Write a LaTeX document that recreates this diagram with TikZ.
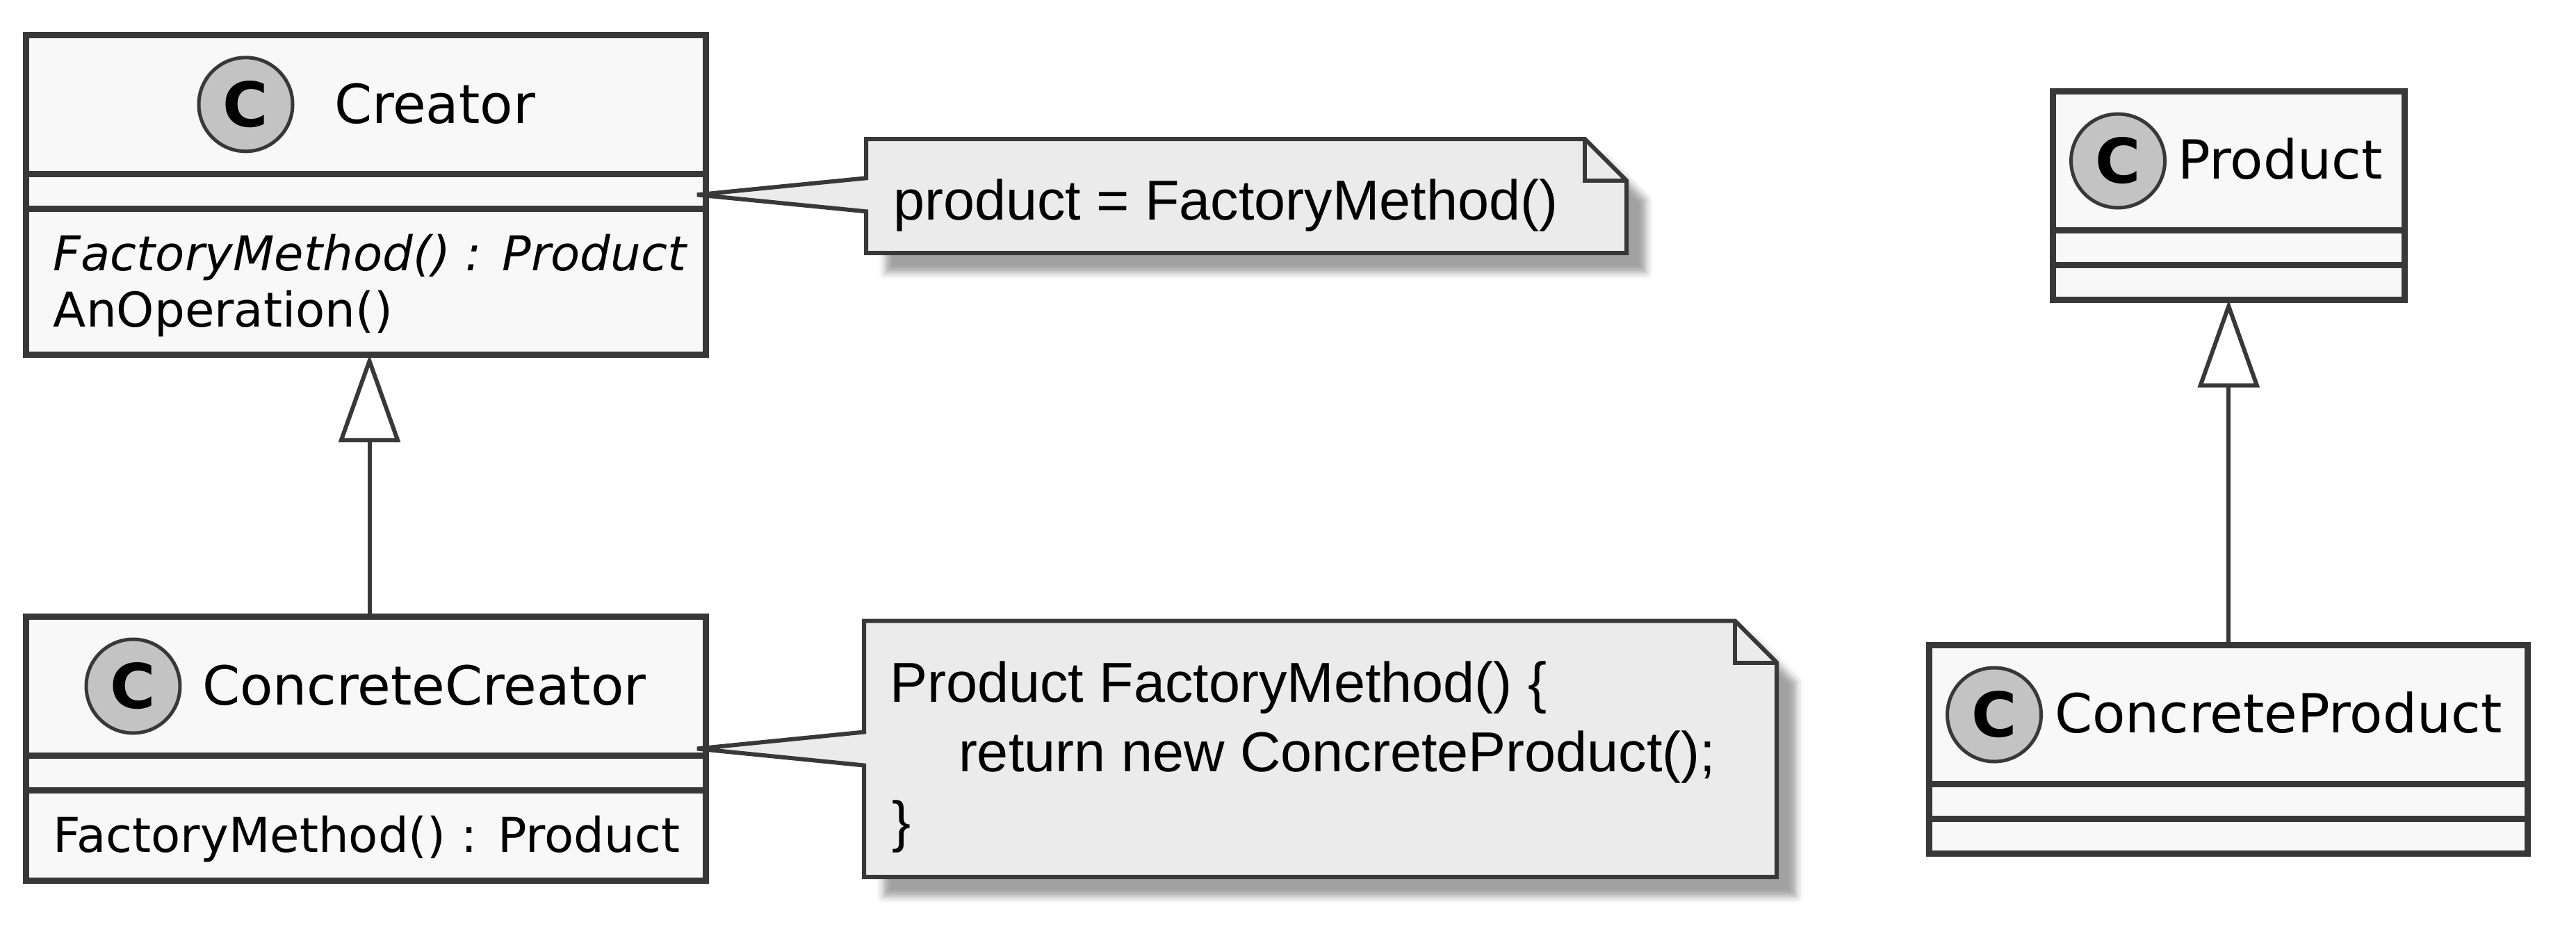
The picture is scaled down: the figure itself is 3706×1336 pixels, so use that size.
\documentclass[tikz,border=0pt]{standalone}
\usepackage{fontspec}
\setmainfont{DejaVu Sans}
\newfontfamily\notefont{Liberation Sans}
\usepackage{tikz}
\usetikzlibrary{positioning,calc,fit,backgrounds,shadows.blur,arrows.meta}
\definecolor{classfill}{HTML}{F8F8F8}
\definecolor{umlline}{HTML}{383838}
\definecolor{notefill}{HTML}{EBEBEB}
\definecolor{spotfill}{HTML}{C3C3C3}
\tikzset{
  umlshadow/.style={blur shadow={shadow xshift=5.6pt, shadow yshift=-5.6pt, shadow blur radius=2pt, shadow opacity=37}},
  classpart/.style={draw=umlline, fill=classfill, line width=1.8pt, inner sep=0pt, outer sep=0pt, minimum width=#1},
  classshadow/.style={fill=classfill, inner sep=0pt, outer sep=0pt, umlshadow},
  spot/.style={circle, draw=umlline, fill=spotfill, line width=1pt, minimum size=27pt, inner sep=0pt, font=\bfseries\fontsize{17.8pt}{18pt}\selectfont},
  classname/.style={anchor=base west, inner sep=0pt, font=\fontsize{15.5pt}{18pt}\selectfont},
  member/.style={anchor=base west, inner sep=0pt, font=\fontsize{13.8pt}{16pt}\selectfont},
  umlnote/.style={draw=umlline, fill=notefill, line width=1.2pt},
  umlfold/.style={draw=umlline, line width=1.2pt},
  notetext/.style={anchor=base west, inner sep=0pt, font=\notefont\fontsize{16.2pt}{20pt}\selectfont},
  extends/.style={draw=umlline, line width=1.2pt, -{Triangle[length=25.2pt, width=17.6pt, fill=white]}},
}

\begin{document}
\begin{tikzpicture}[x=0.2pt, y=-0.2pt]
  \useasboundingbox (0,0) rectangle (3706,1336);

  % Creator
  \node[classpart=195.6pt, minimum height=40pt] (creator-head) at (526.5,150.3) {};
  \node[classpart=195.6pt, minimum height=10pt, below=0pt of creator-head] (creator-attr) {};
  \node[classpart=195.6pt, minimum height=42pt, below=0pt of creator-attr] (creator-ops) {};
  \begin{scope}[on background layer]
    \node[classshadow, fit=(creator-head) (creator-ops)] (creator) {};
  \end{scope}
  \node[spot] (creator-spot) at (353.5,150.3) {C};
  \node[classname] (creator-name) at (480,177) {Creator};
  \node[member] (creator-m1) at (76,389) {\itshape FactoryMethod() : Product};
  \node[member] (creator-m2) at (76,470) {AnOperation()};

  % ConcreteCreator
  \node[classpart=195.6pt, minimum height=40pt] (ccreator-head) at (526.5,987.5) {};
  \node[classpart=195.6pt, minimum height=10pt, below=0pt of ccreator-head] (ccreator-attr) {};
  \node[classpart=195.6pt, minimum height=26pt, below=0pt of ccreator-attr] (ccreator-ops) {};
  \begin{scope}[on background layer]
    \node[classshadow, fit=(ccreator-head) (ccreator-ops)] (ccreator) {};
  \end{scope}
  \node[spot] (ccreator-spot) at (191.5,987.5) {C};
  \node[classname] (ccreator-name) at (290,1014) {ConcreteCreator};
  \node[member] (ccreator-m1) at (76,1226) {FactoryMethod() : Product};

  % Product
  \node[classpart=101.3pt, minimum height=40pt] (product-head) at (3206.25,231.5) {};
  \node[classpart=101.3pt, minimum height=10pt, below=0pt of product-head] (product-attr) {};
  \node[classpart=101.3pt, minimum height=10pt, below=0pt of product-attr] (product-ops) {};
  \begin{scope}[on background layer]
    \node[classshadow, fit=(product-head) (product-ops)] (product) {};
  \end{scope}
  \node[spot] (product-spot) at (3047,231.5) {C};
  \node[classname] (product-name) at (3132,257) {Product};

  % ConcreteProduct
  \node[classpart=172.2pt, minimum height=40pt] (cproduct-head) at (3206.25,1028.5) {};
  \node[classpart=172.2pt, minimum height=10pt, below=0pt of cproduct-head] (cproduct-attr) {};
  \node[classpart=172.2pt, minimum height=10pt, below=0pt of cproduct-attr] (cproduct-ops) {};
  \begin{scope}[on background layer]
    \node[classshadow, fit=(cproduct-head) (cproduct-ops)] (cproduct) {};
  \end{scope}
  \node[spot] (cproduct-spot) at (2869,1028.5) {C};
  \node[classname] (cproduct-name) at (2955,1054) {ConcreteProduct};

  \draw[extends] ([xshift=1pt]ccreator-head.north) -- ([xshift=1pt]creator-ops.south);
  \draw[extends] (cproduct-head.north) -- (product-ops.south);

  % notes
  \coordinate (note1-nw) at (1246,200);
  \coordinate (note1-se) at (2340,364);
  \coordinate (note1-fa) at ([xshift=-12pt]note1-nw -| note1-se);
  \coordinate (note1-fb) at ([yshift=-12pt]note1-se |- note1-nw);
  \coordinate (creator-tip) at ([xshift=-2.5pt]creator.east);
  \path[umlshadow] (note1-nw) -- (note1-fa) -- (note1-fb) -- (note1-se) -- (note1-nw |- note1-se) -- cycle;
  \draw[umlnote] (note1-nw) -- (note1-fa) -- (note1-fb) -- (note1-se) -- (note1-nw |- note1-se)
    -- ([yshift=-4.8pt]note1-nw |- creator-tip) -- (creator-tip) -- ([yshift=4.8pt]note1-nw |- creator-tip) -- cycle;
  \draw[umlfold] (note1-fa) |- (note1-fb);
  \node[notetext] (note1-text) at (1284,316) {product = FactoryMethod()};

  \coordinate (note2-nw) at (1243,893.5);
  \coordinate (note2-se) at (2556,1262);
  \coordinate (note2-fa) at ([xshift=-12pt]note2-nw -| note2-se);
  \coordinate (note2-fb) at ([yshift=-12pt]note2-se |- note2-nw);
  \coordinate (ccreator-tip) at ([xshift=-2.5pt]ccreator.east);
  \path[umlshadow] (note2-nw) -- (note2-fa) -- (note2-fb) -- (note2-se) -- (note2-nw |- note2-se) -- cycle;
  \draw[umlnote] (note2-nw) -- (note2-fa) -- (note2-fb) -- (note2-se) -- (note2-nw |- note2-se)
    -- ([yshift=-4.8pt]note2-nw |- ccreator-tip) -- (ccreator-tip) -- ([yshift=4.8pt]note2-nw |- ccreator-tip) -- cycle;
  \draw[umlfold] (note2-fa) |- (note2-fb);
  \node[notetext] (note2-l1) at (1279,1010) {Product FactoryMethod() \{};
  \node[notetext] (note2-l2) at (1378,1110) {return new ConcreteProduct();};
  \node[notetext] (note2-l3) at (1282,1210) {\}};
\end{tikzpicture}
\end{document}
